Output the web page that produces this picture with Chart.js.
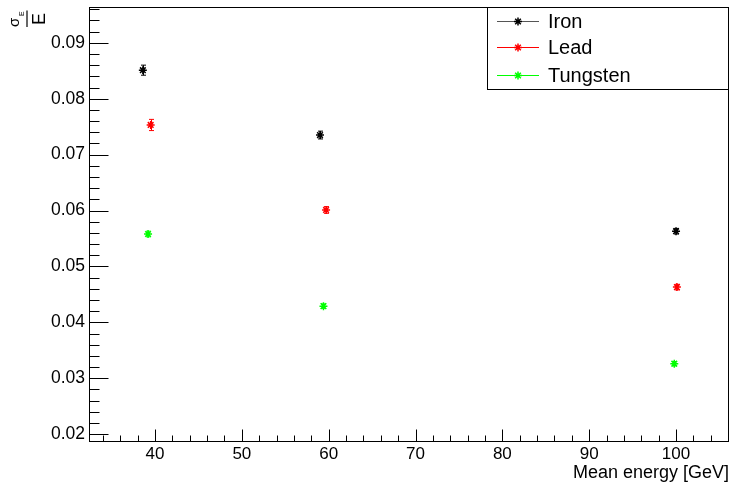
<!DOCTYPE html>
<html>
<head>
    <script src="https://cdn.jsdelivr.net/npm/chart.js"></script>
    <style>
        html, body {
            margin: 0;
            padding: 0;
            background: #fff;
        }
        #wrap {
            width: 731px;
            height: 486px;
        }
    </style>
</head>
<body>
    <div id="wrap"><canvas id="res"></canvas></div>

    <script>
        // resolution vs mean energy for three absorbers
        let seriesNames = ['Iron', 'Lead', 'Tungsten'];
        let seriesColors = ['#000000', '#ff0000', '#00ff00'];

        let ironE = [38.6, 59.0, 100.0];
        let ironRes = [0.0851, 0.0735, 0.0563];
        let ironErr = [0.0009, 0.0007, 0.0005];

        let leadE = [39.5, 59.7, 100.1];
        let leadRes = [0.0753, 0.0601, 0.0463];
        let leadErr = [0.0010, 0.0006, 0.0005];

        let tungE = [39.2, 59.4, 99.8];
        let tungRes = [0.0558, 0.0429, 0.0326];
        let tungErr = [0.0005, 0.0004, 0.0004];

        let xTicks = [40, 50, 60, 70, 80, 90, 100];
        let yTicks = [0.02, 0.03, 0.04, 0.05, 0.06, 0.07, 0.08, 0.09];

        let energies = [ironE, leadE, tungE];
        let resolutions = [ironRes, leadRes, tungRes];
        let errors = [ironErr, leadErr, tungErr];

        let FONT = 'Liberation Sans, Arial, sans-serif';

        let datasets = seriesNames.map(function (name, i) {
            return {
                label: name,
                data: energies[i].map(function (e, k) { return { x: e, y: resolutions[i][k] }; }),
                errs: errors[i],
                pointStyle: 'star',
                pointRadius: 4,
                pointBorderWidth: 1.5,
                borderColor: seriesColors[i],
                backgroundColor: seriesColors[i],
                showLine: false
            };
        });

        // vertical error bars with little caps
        let errorBars = {
            id: 'errorBars',
            afterDatasetsDraw: function (chart) {
                let ctx = chart.ctx;
                let xs = chart.scales.x, ys = chart.scales.y;
                ctx.save();
                chart.data.datasets.forEach(function (ds) {
                    ctx.strokeStyle = ds.borderColor;
                    ctx.lineWidth = 1;
                    ds.data.forEach(function (p, k) {
                        let px = Math.round(xs.getPixelForValue(p.x)) + 0.5;
                        let top = ys.getPixelForValue(p.y + ds.errs[k]);
                        let bot = ys.getPixelForValue(p.y - ds.errs[k]);
                        ctx.beginPath();
                        ctx.moveTo(px, top);
                        ctx.lineTo(px, bot);
                        ctx.moveTo(px - 2.5, top);
                        ctx.lineTo(px + 2.5, top);
                        ctx.moveTo(px - 2.5, bot);
                        ctx.lineTo(px + 2.5, bot);
                        ctx.stroke();
                    });
                });
                ctx.restore();
            }
        };

        // frame, inward ticks, legend box and the sigma/E label
        let decorations = {
            id: 'decorations',
            afterDraw: function (chart) {
                let ctx = chart.ctx;
                let a = chart.chartArea;
                let xs = chart.scales.x, ys = chart.scales.y;
                let L = Math.round(a.left) + 0.5, R = Math.round(a.right) - 0.5;
                let T = Math.round(a.top) + 0.5, B = Math.round(a.bottom) - 0.5;
                ctx.save();
                ctx.strokeStyle = '#000';
                ctx.lineWidth = 1;
                ctx.strokeRect(L, T, R - L, B - T);

                ctx.beginPath();
                // x ticks: major every 10, minor every 2
                for (let v = 34; v <= 106; v += 2) {
                    let px = Math.round(xs.getPixelForValue(v)) + 0.5;
                    if (px < L || px > R) continue;
                    let len = (v % 10 === 0) ? 12 : 6;
                    ctx.moveTo(px, B);
                    ctx.lineTo(px, B - len);
                }
                // y ticks: major every 0.01, minor every 0.002
                for (let m = 10; m <= 48; m += 1) {
                    let v = m * 0.002;
                    let py = Math.round(ys.getPixelForValue(v)) + 0.5;
                    if (py < T || py > B) continue;
                    let len = (m % 5 === 0) ? 19 : 10;
                    ctx.moveTo(L, py);
                    ctx.lineTo(L + len, py);
                }
                ctx.stroke();

                // legend
                let lx = 487.5, ly = T, lw = R - 487.5, lh = 82;
                ctx.fillStyle = '#fff';
                ctx.fillRect(lx, ly, lw, lh);
                ctx.strokeRect(lx, ly, lw, lh);
                ctx.font = '20px ' + FONT;
                ctx.textBaseline = 'middle';
                ctx.textAlign = 'left';
                let rows = [21, 47, 75];
                chart.data.datasets.forEach(function (ds, i) {
                    let yy = rows[i] + 0.5;
                    ctx.strokeStyle = i === 0 ? '#555' : ds.borderColor;
                    ctx.beginPath();
                    ctx.moveTo(497, yy);
                    ctx.lineTo(539, yy);
                    ctx.stroke();
                    ctx.strokeStyle = ds.borderColor;
                    ctx.lineWidth = 1.5;
                    Chart.helpers.drawPoint(ctx, { pointStyle: 'star', radius: 4, borderWidth: 1.5 }, 518, yy);
                    ctx.lineWidth = 1;
                    ctx.fillStyle = '#000';
                    ctx.fillText(ds.label, 548, yy + 1);
                });

                // y title: sigma_E over E, rotated
                ctx.translate(27, 27);
                ctx.rotate(-Math.PI / 2);
                ctx.fillStyle = '#000';
                ctx.strokeStyle = '#000';
                ctx.textAlign = 'left';
                ctx.textBaseline = 'alphabetic';
                ctx.font = '15px ' + FONT;
                ctx.fillText('\u03c3', 0, -8);
                ctx.font = '7px ' + FONT;
                ctx.fillText('E', 11, -3);
                ctx.beginPath();
                ctx.moveTo(0, 0);
                ctx.lineTo(16.5, 0);
                ctx.lineWidth = 1.2;
                ctx.stroke();
                ctx.textAlign = 'center';
                ctx.font = '18px ' + FONT;
                ctx.fillText('E', 8, 18);
                ctx.restore();
            }
        };

        new Chart(document.getElementById('res'), {
            type: 'scatter',
            data: { datasets: datasets },
            plugins: [errorBars, decorations],
            options: {
                responsive: true,
                maintainAspectRatio: false,
                animation: false,
                layout: { autoPadding: false, padding: { top: 7, right: 2, left: 0, bottom: 0 } },
                plugins: {
                    legend: { display: false },
                    tooltip: { enabled: false }
                },
                scales: {
                    x: {
                        type: 'linear',
                        min: 32.4,
                        max: 106.1,
                        afterBuildTicks: function (s) { s.ticks = xTicks.map(function (v) { return { value: v }; }); },
                        afterFit: function (s) {
                            s.height = 44;
                            s.paddingLeft = 0;
                            s.paddingRight = 0;
                        },
                        grid: { display: false, drawTicks: false },
                        border: { display: false },
                        ticks: {
                            color: '#000',
                            font: { family: FONT, size: 17 },
                            padding: 2,
                            maxRotation: 0
                        },
                        title: {
                            display: true,
                            text: 'Mean energy [GeV]',
                            align: 'end',
                            color: '#000',
                            font: { family: FONT, size: 18 },
                            padding: { top: 0, bottom: 2 }
                        }
                    },
                    y: {
                        type: 'linear',
                        min: 0.0186,
                        max: 0.0964,
                        afterBuildTicks: function (s) { s.ticks = yTicks.map(function (v) { return { value: v }; }); },
                        afterFit: function (s) {
                            s.width = 89;
                            s.paddingTop = 0;
                            s.paddingBottom = 0;
                        },
                        grid: { display: false, drawTicks: false },
                        border: { display: false },
                        ticks: {
                            color: '#000',
                            font: { family: FONT, size: 17.5 },
                            padding: 4,
                            callback: function (v) { return v.toFixed(2); }
                        }
                    }
                }
            }
        });
    </script>
</body>
</html>
